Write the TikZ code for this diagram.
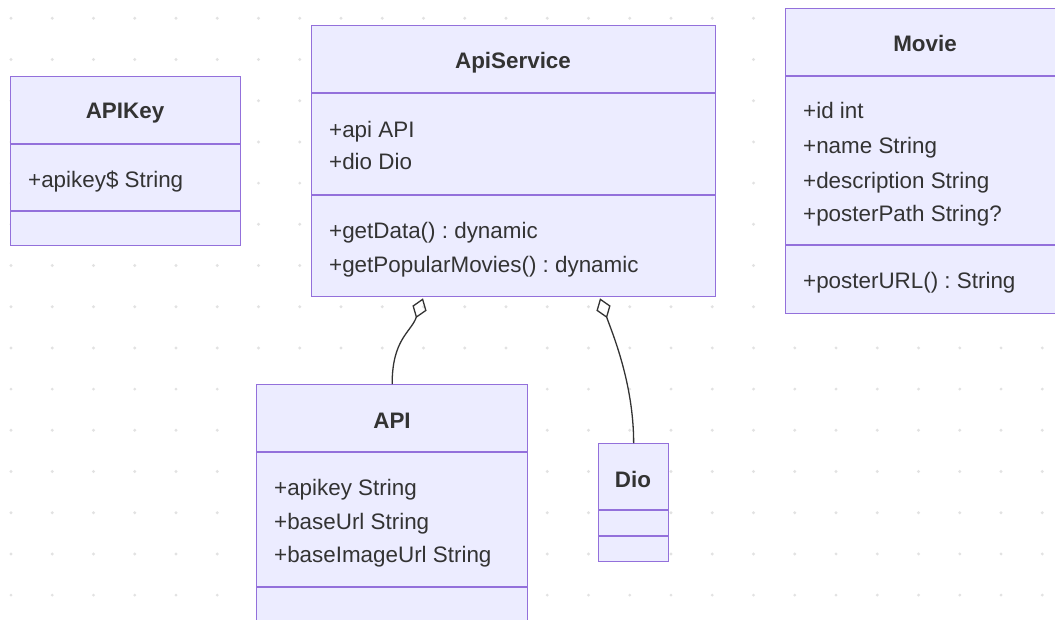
\documentclass[tikz,border=0pt]{standalone}
\usepackage{fontspec}
\setmainfont{Liberation Sans}
\usetikzlibrary{arrows.meta,calc}
\frenchspacing

\definecolor{boxfill}{HTML}{ECECFF}
\definecolor{boxline}{HTML}{9370DB}
\definecolor{ink}{HTML}{333333}
\definecolor{griddot}{HTML}{E2E2E2}

\tikzset{
  umlbox/.style={draw=boxline, fill=boxfill, line width=1.3pt, inner sep=0pt,
                 rectangle, anchor=north west},
  divider/.style={draw=boxline, line width=1.3pt},
  title/.style={font=\fontsize{22.4}{27}\selectfont\bfseries, text=ink, anchor=base, inner sep=0pt},
  member/.style={font=\fontsize{22.4}{27}\selectfont, text=ink, anchor=base west, inner sep=0pt},
  agg/.style={draw=ink, line width=1.3pt,
              {Diamond[open, length=21pt, width=15pt, line width=1.3pt]}-},
}

\begin{document}
\begin{tikzpicture}[x=1pt, y=-1pt]
  \clip (0,0) rectangle (1055,619);
  \fill[white] (0,0) rectangle (1055,619);

  % dotted background grid
  \foreach \i in {0,...,25}{
    \foreach \j in {0,...,15}{
      \fill[griddot] ({11+41.25*\i},{18.3+41.2*\j}) circle (1.6);
    }
  }

  % APIKey
  \node[umlbox, minimum width=230pt, minimum height=169pt] (apikey) at (10,76) {};
  \draw[divider] ($(apikey.north west)+(0,68)$) -- ($(apikey.north east)+(0,68)$);
  \draw[divider] ($(apikey.north west)+(0,135)$) -- ($(apikey.north east)+(0,135)$);
  \node[title] (apikeyT) at (125,118) {APIKey};
  \node[member] (apikeyF1) at (28,187) {+apikey\$ String};

  % ApiService
  \node[umlbox, minimum width=404pt, minimum height=271pt] (svc) at (311,25) {};
  \draw[divider] ($(svc.north west)+(0,68)$) -- ($(svc.north east)+(0,68)$);
  \draw[divider] ($(svc.north west)+(0,170)$) -- ($(svc.north east)+(0,170)$);
  \node[title] (svcT) at (513,68) {ApiService};
  \node[member] (svcF1) at (329,137) {+api API};
  \node[member] (svcF2) at (329,169) {+dio Dio};
  \node[member] (svcM1) at (329,238) {+getData() : dynamic};
  \node[member] (svcM2) at (329,272) {+getPopularMovies() : dynamic};

  % Movie
  \node[umlbox, minimum width=280pt, minimum height=305pt] (movie) at (785,8) {};
  \draw[divider] ($(movie.north west)+(0,68)$) -- ($(movie.north east)+(0,68)$);
  \draw[divider] ($(movie.north west)+(0,237)$) -- ($(movie.north east)+(0,237)$);
  \node[title] (movieT) at (925,51) {Movie};
  \node[member] (movieF1) at (803,118) {+id int};
  \node[member] (movieF2) at (803,153) {+name String};
  \node[member] (movieF3) at (803,188) {+description String};
  \node[member] (movieF4) at (803,221) {+posterPath String?};
  \node[member] (movieM1) at (803,288) {+posterURL() : String};

  % API
  \node[umlbox, minimum width=271pt, minimum height=270pt] (api) at (256,384) {};
  \draw[divider] ($(api.north west)+(0,68)$) -- ($(api.north east)+(0,68)$);
  \draw[divider] ($(api.north west)+(0,203)$) -- ($(api.north east)+(0,203)$);
  \node[title] (apiT) at (392,428) {API};
  \node[member] (apiF1) at (274,495) {+apikey String};
  \node[member] (apiF2) at (274,529) {+baseUrl String};
  \node[member] (apiF3) at (274,562) {+baseImageUrl String};

  % Dio
  \node[umlbox, minimum width=70pt, minimum height=118pt] (dio) at (598,443) {};
  \draw[divider] ($(dio.north west)+(0,67)$) -- ($(dio.north east)+(0,67)$);
  \draw[divider] ($(dio.north west)+(0,93)$) -- ($(dio.north east)+(0,93)$);
  \node[title] (dioT) at (633,487) {Dio};

  % aggregation links
  \coordinate (svcApi) at ($(svc.south west)+(112,1)$);
  \coordinate (svcDio) at ($(svc.south west)+(289,1)$);
  \draw[agg] (svcApi) .. controls +(-12,34) and +(0,-45) .. (api.north);
  \draw[agg] (svcDio) .. controls +(12,34) and +(0,-60) .. (dio.north);
\end{tikzpicture}
\end{document}
